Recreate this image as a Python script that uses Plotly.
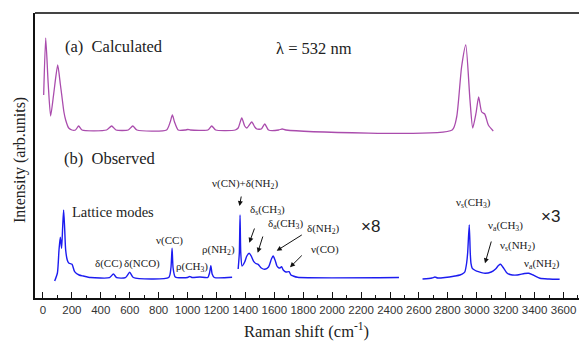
import plotly.graph_objects as go

# ---- data (wavenumber cm^-1, intensity arb. units with offset) ----
calc_x = [5, 19, 36, 53, 75, 102, 120, 129, 145, 157, 178, 200,
          225, 247, 270, 440, 475, 505, 590, 621, 650,
          855, 880, 895, 910, 935, 985, 1001, 1020,
          1140, 1167, 1195, 1330, 1350, 1375, 1395, 1410, 1444, 1465, 1479, 1510, 1534, 1560,
          1630, 1654, 1680, 2830, 2861, 2895, 2924, 2953, 2972, 2995, 3013, 3034, 3055, 3080, 3114]
calc_y = [203, 260, 215, 182, 205, 233, 214, 204, 186, 178, 170, 168,
          168, 172, 168, 168, 172, 168, 168, 172, 168,
          168, 176, 183, 176, 168, 168, 168.5, 168,
          168, 172, 168, 168, 170, 180, 172, 170, 176, 171, 169, 169, 174, 168,
          168, 169, 168, 168, 181, 231, 253, 198, 170, 185, 201, 186, 184, 173, 167]

obs1_x = [81, 100, 111, 120, 129, 136, 143, 150, 157, 168, 178, 201, 219, 250, 279, 330,
          460, 487, 510, 570, 600, 625, 870, 885, 893, 900, 915,
          1000, 1015, 1030, 1085, 1140, 1152, 1161, 1170, 1185, 1308]
obs1_y = [17, 25, 48, 60.7, 49.7, 70, 88, 70, 48, 38, 35, 33.7, 26.3, 23, 22, 20.5,
          20.3, 24, 20.3, 20.3, 25.7, 20.5, 20.5, 30, 49.7, 30, 21,
          20.5, 21.5, 20.5, 21, 20.5, 25, 32.3, 24, 20.5, 20.7]

obs2_x = [1350, 1358, 1363, 1368, 1377, 1395, 1410, 1426, 1440, 1458, 1472, 1488, 1510, 1534,
          1560, 1580, 1592, 1605, 1618, 1626, 1640, 1650, 1662, 1680, 1702, 1715, 1730, 1760, 2462]
obs2_y = [29, 45, 83, 45, 32, 36, 42, 44.7, 42, 36.3, 34.5, 33.7, 30, 28.7,
          31, 39, 42, 38, 32, 30.7, 30, 31.3, 28, 26, 26.3, 23, 22, 20.7, 20.5]

obs3_x = [2625, 2690, 2711, 2730, 2780, 2850, 2884, 2910, 2918, 2930, 2937, 2948, 2955, 2960, 2969,
          2990, 3011, 3057, 3100, 3130, 3150, 3165, 3180, 3207, 3230, 3280, 3330, 3360, 3390,
          3437, 3500, 3573]
obs3_y = [19, 20, 21, 20, 20.5, 22, 23, 25, 26.3, 35, 45, 73, 45, 34.7, 29.7,
          27.5, 26.3, 24.7, 26, 29, 32.5, 33.7, 31, 25.3, 23.5, 23, 24.5, 24.7, 23,
          19.7, 19, 18.7]

tick_vals = list(range(0, 3601, 200))
tick_text = [str(v) for v in tick_vals]

# ---- layout helpers (pixel -> paper) ----
W, H = 579, 342
L, R, T, B = 35, 0, 13, 44
PW, PH = W - L - R, H - T - B

def px(x):
    return (x - L) / PW

def py(y):
    return (H - B - y) / PH

PURPLE = "#aa4cad"
BLUE = "#1c1cf0"
SERIF = "Liberation Serif, Times New Roman, Times, serif"
SANS = "Liberation Sans, Arial, Helvetica, sans-serif"

fig = go.Figure()
fig.add_trace(go.Scatter(x=calc_x, y=calc_y, mode="lines",
                         line=dict(color=PURPLE, width=1.3, shape="spline", smoothing=0.6),
                         showlegend=False, hoverinfo="skip"))
for xs, ys in [(obs1_x, obs1_y), (obs2_x, obs2_y), (obs3_x, obs3_y)]:
    fig.add_trace(go.Scatter(x=xs, y=ys, mode="lines",
                             line=dict(color=BLUE, width=1.4, shape="spline", smoothing=0.6),
                             showlegend=False, hoverinfo="skip"))

ann = []

def text(t, x, y, size=11, anchor="center", font=SERIF, color="#222"):
    ann.append(dict(text=t, x=px(x), y=py(y), xref="paper", yref="paper",
                    xanchor=anchor, yanchor="middle", showarrow=False,
                    font=dict(family=font, size=size, color=color)))

def arrow(tx, ty, hx, hy):
    ann.append(dict(text="", x=px(hx), y=py(hy), xref="paper", yref="paper",
                    ax=tx - hx, ay=ty - hy, showarrow=True, arrowhead=2,
                    arrowsize=1, arrowwidth=1, arrowcolor="#111"))

text("(a)  Calculated", 63, 46, 16.5, "left")
text("λ = 532 nm", 274, 49, 16.5, "left")
text("(b)  Observed", 62, 158, 16.5, "left")
text("Lattice modes", 70, 212, 14.5, "left")
text("δ(CC)", 109, 263, 11)
text("δ(NCO)", 142, 263, 11)
text("ν(CC)", 169, 240, 11)
text("ρ(CH<sub>3</sub>)", 192, 267, 11)
text("ρ(NH<sub>2</sub>)", 218, 250, 11)
text("ν(CN)+δ(NH<sub>2</sub>)", 245, 184, 11)
text("δ<sub>s</sub>(CH<sub>3</sub>)", 267, 210, 11)
text("δ<sub>a</sub>(CH<sub>3</sub>)", 285, 224, 11)
text("δ(NH<sub>2</sub>)", 323, 229, 11)
text("ν(CO)", 325, 249, 11)
text("×8", 370, 226, 17, font=SANS)
text("ν<sub>s</sub>(CH<sub>3</sub>)", 473, 203, 11)
text("ν<sub>a</sub>(CH<sub>3</sub>)", 505, 226, 11)
text("ν<sub>s</sub>(NH<sub>2</sub>)", 517, 246, 11)
text("ν<sub>a</sub>(NH<sub>2</sub>)", 542, 264, 11)
text("×3", 550, 216, 17, font=SANS)

arrow(241.5, 195, 239.5, 206)
arrow(255, 227, 249.3, 242.7)
arrow(263.3, 235, 257.7, 252.7)
arrow(303.3, 234, 276.7, 250.7)
arrow(303.3, 254, 290, 267.3)
arrow(491.7, 240, 485, 263.3)

# axis titles as annotations for exact placement
ann.append(dict(text="Intensity (arb.units)", x=px(20), y=py(160), xref="paper", yref="paper",
                textangle=-90, showarrow=False, xanchor="center", yanchor="middle",
                font=dict(family=SERIF, size=16, color="#222")))
ann.append(dict(text="Raman shift (cm<sup>-1</sup>)", x=px(306), y=py(330), xref="paper", yref="paper",
                showarrow=False, xanchor="center", yanchor="middle",
                font=dict(family=SERIF, size=16.5, color="#222")))

shapes = [dict(type="line", xref="paper", yref="paper", x0=0, x1=1, y0=1, y1=1,
               line=dict(color="#444", width=2))]

fig.update_layout(
    width=W, height=H,
    margin=dict(l=L, r=R, t=T, b=B, autoexpand=False),
    paper_bgcolor="white", plot_bgcolor="white",
    annotations=ann, shapes=shapes,
    xaxis=dict(range=[-55, 3707], showgrid=False, zeroline=False, automargin=False,
               showline=True, linecolor="#111", linewidth=1.5,
               tickmode="array", tickvals=tick_vals, ticktext=tick_text,
               ticks="inside", ticklen=6, tickwidth=1.2, tickcolor="#111",
               minor=dict(dtick=100, tick0=0, ticks="inside", ticklen=3, tickwidth=1.2, tickcolor="#111"),
               tickfont=dict(family=SANS, size=11.5, color="#333")),
    yaxis=dict(range=[0, 285], showgrid=False, zeroline=False, showticklabels=False, automargin=False,
               ticks="", showline=True, linecolor="#111", linewidth=1.5),
)

fig.write_html("out.html", config={"displayModeBar": False},
               post_script="document.body.style.margin='0';document.body.style.padding='0';"
                           "document.body.style.overflow='hidden';")
